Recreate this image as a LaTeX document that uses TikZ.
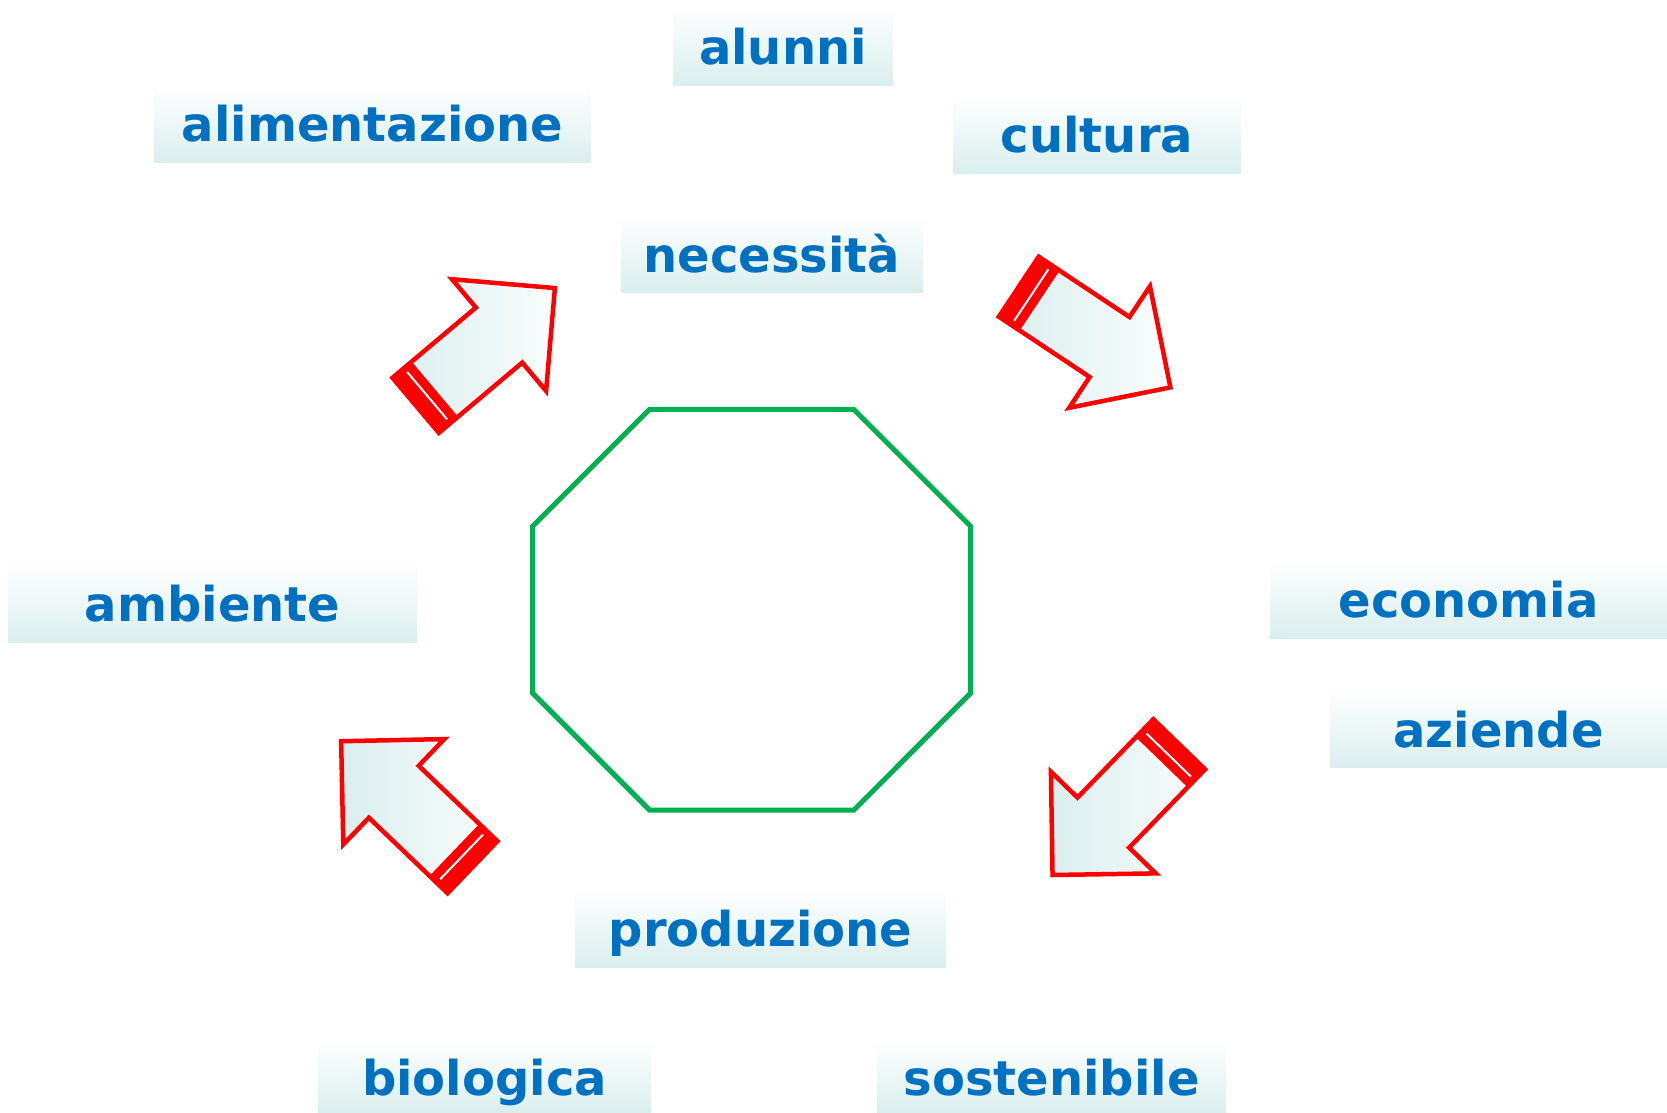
\documentclass[tikz,border=0pt]{standalone}
\usepackage{fontspec}
\setmainfont{DejaVu Sans}

\definecolor{lblblue}{RGB}{0,112,192}
\definecolor{boxteal}{RGB}{218,238,238}
\definecolor{octgreen}{RGB}{0,176,80}

\tikzset{
  lbl/.style={inner sep=0pt, top color=white, bottom color=boxteal, text=lblblue,
    font=\fontsize{48}{57}\selectfont\bfseries, text height=37pt, text depth=0pt},
  bigarrow/.pic={
    \shade[left color=boxteal, right color=white!85!boxteal]
      (0,-36) -- (109,-36) -- (109,-73) -- (182,0) -- (109,73) -- (109,36) -- (0,36) -- cycle;
    \fill[red] (0,-36) rectangle (25,36);
    \draw[white, line width=2pt] (15,-31) -- (15,31);
    \draw[red, line width=4.5pt, line join=miter]
      (0,-36) -- (109,-36) -- (109,-73) -- (182,0) -- (109,73) -- (109,36) -- (0,36) -- cycle;
  }
}

\begin{document}
\begin{tikzpicture}[x=1pt, y=-1pt]
  \useasboundingbox (0,0) rectangle (1667,1113);

  % labels
  \node[lbl, minimum width=220pt, minimum height=80pt] (alunni) at (783,46) {alunni};
  \node[lbl, minimum width=437pt, minimum height=77pt] (alimentazione) at (372.5,123.5) {alimentazione};
  \node[lbl, minimum width=288pt, minimum height=78pt] (cultura) at (1097,134) {cultura};
  \node[lbl, minimum width=302pt, minimum height=77pt] (necessita) at (772,253.5) {necessità};
  \node[lbl, minimum width=409pt, minimum height=79pt] (ambiente) at (212.5,602.5) {ambiente};
  \node[lbl, minimum width=397pt, minimum height=78pt] (economia) at (1468.5,599) {economia};
  \node[lbl, minimum width=337pt, minimum height=77pt] (aziende) at (1498.5,728.5) {aziende};
  \node[lbl, minimum width=371pt, minimum height=79pt] (produzione) at (760.5,927.5) {produzione};
  \node[lbl, minimum width=333pt, minimum height=73pt] (biologica) at (484.5,1076.5) {biologica};
  \node[lbl, minimum width=349pt, minimum height=73pt] (sostenibile) at (1051.5,1076.5) {sostenibile};

  % octagon
  \draw[octgreen, line width=5pt, line join=miter]
    (649.6,409.3) -- (853.7,409.3) -- (970.6,526.2) -- (970.6,693.1)
    -- (853.7,810.1) -- (649.6,810.1) -- (532.6,693.1) -- (532.6,526.2) -- cycle;

  % arrows
  \pic[rotate=40.1] at (415.7,405.3) {bigarrow};
  \pic[rotate=-33.6] at (1018.8,286.7) {bigarrow};
  \pic[rotate=-134.1] at (1179.2,744.3) {bigarrow};
  \pic[rotate=136.2] at (472.5,867.2) {bigarrow};
\end{tikzpicture}
\end{document}
